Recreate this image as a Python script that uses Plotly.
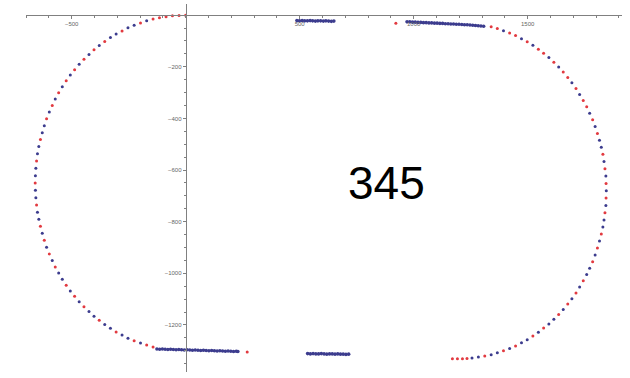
import plotly.graph_objects as go

# ---- data (track positions) ----
left_red_x = [0, -29, -58, -86, -115, -143, -198, -279, -355, -402, -446, -487, -524, -557, -585, -610,
              -637, -654, -660, -654, -637, -620, -598, -572, -524, -487, -446, -379, -305, -226, -171, -143]
left_red_y = [0, -1, -2, -6, -10, -15, -30, -61, -102, -134, -171, -211, -254, -301, -350, -401,
              -482, -565, -650, -735, -818, -872, -925, -975, -1046, -1089, -1129, -1182, -1227, -1261, -1278, -1285]

left_blue_x = [-171, -226, -253, -305, -330, -379, -424, -467, -506, -541, -572, -598, -620, -629, -644, -650,
               -657, -659, -659, -657, -650, -644, -629, -610, -585, -557, -541, -506, -467, -424, -402, -355,
               -330, -279, -253, -198]
left_blue_y = [-22, -39, -49, -73, -87, -118, -152, -190, -232, -277, -325, -375, -428, -455, -509, -537,
               -593, -622, -678, -707, -763, -791, -845, -899, -950, -999, -1023, -1068, -1110, -1148, -1166, -1198,
               -1213, -1239, -1251, -1270]

right_red_x = [1340, 1367, 1421, 1447, 1498, 1547, 1570, 1615, 1656, 1676, 1712, 1744, 1759, 1785, 1806, 1830,
               1839, 1844, 1844, 1839, 1823, 1806, 1785, 1744, 1712, 1676, 1636, 1570, 1523, 1447, 1394, 1312,
               1234, 1214, 1192, 1170]
right_red_y = [-45, -52, -69, -79, -103, -132, -148, -182, -220, -241, -284, -331, -355, -405, -458, -539,
               -595, -652, -708, -765, -848, -902, -955, -1029, -1076, -1119, -1159, -1212, -1243, -1281, -1300, -1320,
               -1330, -1331, -1331, -1331]

right_blue_x = [1394, 1473, 1523, 1593, 1636, 1694, 1728, 1772, 1796, 1815, 1823, 1835, 1843, 1845, 1843, 1835,
                1830, 1815, 1796, 1772, 1759, 1728, 1694, 1656, 1615, 1593, 1547, 1498, 1473, 1421, 1367, 1340,
                1284, 1256]
right_blue_y = [-60, -91, -117, -164, -201, -262, -307, -380, -431, -485, -512, -567, -623, -680, -737, -793,
                -821, -875, -929, -980, -1005, -1053, -1098, -1140, -1178, -1196, -1228, -1257, -1269, -1291, -1308, -1315,
                -1324, -1328]

single_red_x = [922, 270]
single_red_y = [-31, -1305]

top_mid_x = [488, 499, 511, 522, 534, 546, 557, 569, 580, 592, 604, 615, 627, 639, 650]
top_mid_y = [-21, -22, -21, -22, -22, -21, -22, -23, -22, -22, -23, -22, -23, -24, -23]

top_right_x = [971, 983, 995, 1007, 1019, 1031, 1043, 1055, 1067, 1079, 1091, 1103, 1115, 1127, 1139,
               1151, 1163, 1175, 1187, 1199, 1211, 1223, 1235, 1247, 1259, 1271, 1283, 1295, 1307]
top_right_y = [-26, -26, -27, -27, -28, -28, -29, -29, -30, -30, -31, -31, -32, -32, -33,
               -33, -34, -34, -35, -35, -36, -37, -37, -38, -39, -40, -41, -42, -43]

bot_left_x = [-126, -114, -102, -90, -78, -66, -54, -42, -30, -18, -6, 6, 18, 30, 42, 54, 66, 78, 90, 102,
              114, 126, 138, 150, 162, 174, 186, 198, 210, 222, 229]
bot_left_y = [-1293, -1294, -1293, -1294, -1295, -1294, -1295, -1296, -1295, -1296, -1297, -1296, -1297, -1298,
              -1297, -1298, -1299, -1298, -1299, -1300, -1299, -1300, -1301, -1300, -1301, -1302, -1301, -1302,
              -1303, -1302, -1303]

bot_mid_x = [535, 547, 559, 571, 583, 595, 607, 619, 631, 643, 655, 667, 679, 691, 703, 715]
bot_mid_y = [-1311, -1312, -1311, -1312, -1312, -1311, -1312, -1313, -1312, -1312, -1313, -1312, -1313, -1313,
             -1314, -1313]

x_ticks = [-500, 500, 1000, 1500]
y_ticks = [-200, -400, -600, -800, -1000, -1200]
label_text = "345"

RED = "#e23a40"
BLUE = "#3c3c8e"

fig = go.Figure()

fig.add_trace(go.Scatter(x=left_red_x + right_red_x + single_red_x,
                         y=left_red_y + right_red_y + single_red_y,
                         mode="markers", marker=dict(color=RED, size=3, line=dict(width=0)),
                         showlegend=False, hoverinfo="skip"))
for xs, ys in [(top_mid_x, top_mid_y), (top_right_x, top_right_y),
               (bot_left_x, bot_left_y), (bot_mid_x, bot_mid_y)]:
    fig.add_trace(go.Scatter(x=xs, y=ys, mode="markers",
                             marker=dict(color=BLUE, size=3.6, line=dict(width=0)),
                             showlegend=False, hoverinfo="skip"))
fig.add_trace(go.Scatter(x=left_blue_x + right_blue_x, y=left_blue_y + right_blue_y,
                         mode="markers", marker=dict(color=BLUE, size=3, line=dict(width=0)),
                         showlegend=False, hoverinfo="skip"))

axis_color = "#808080"
tick_font = dict(family="Liberation Sans, Arial, sans-serif", size=6, color="#666666")

fig.update_layout(
    width=630, height=378, autosize=False,
    margin=dict(l=0, r=0, t=0, b=0),
    paper_bgcolor="white", plot_bgcolor="white",
    xaxis=dict(
        domain=[0.041, 0.987], range=[-701, 1913],
        anchor="free", position=0.9603,
        showgrid=False, zeroline=False, showline=True, linecolor=axis_color, linewidth=1,
        tickmode="array", tickvals=x_ticks, ticks="outside", ticklen=3, tickcolor=axis_color,
        tickfont=tick_font,
        minor=dict(tickmode="linear", tick0=0, dtick=100, ticks="outside", ticklen=2,
                   tickcolor=axis_color, showgrid=False),
    ),
    yaxis=dict(
        domain=[0.016, 0.989], range=[-1382, 42.6],
        anchor="free", position=0.2948,
        showgrid=False, zeroline=False, showline=True, linecolor=axis_color, linewidth=1,
        tickmode="array", tickvals=y_ticks, ticks="outside", ticklen=3, tickcolor=axis_color,
        tickfont=tick_font,
        minor=dict(tickmode="linear", tick0=0, dtick=50, ticks="outside", ticklen=2,
                   tickcolor=axis_color, showgrid=False),
    ),
    annotations=[dict(text=label_text, x=0.6127, y=0.516, xref="paper", yref="paper",
                      xanchor="center", yanchor="middle", showarrow=False,
                      font=dict(family="Liberation Sans, Arial, sans-serif", size=46, color="black"))],
)

fig.write_html("out.html")
